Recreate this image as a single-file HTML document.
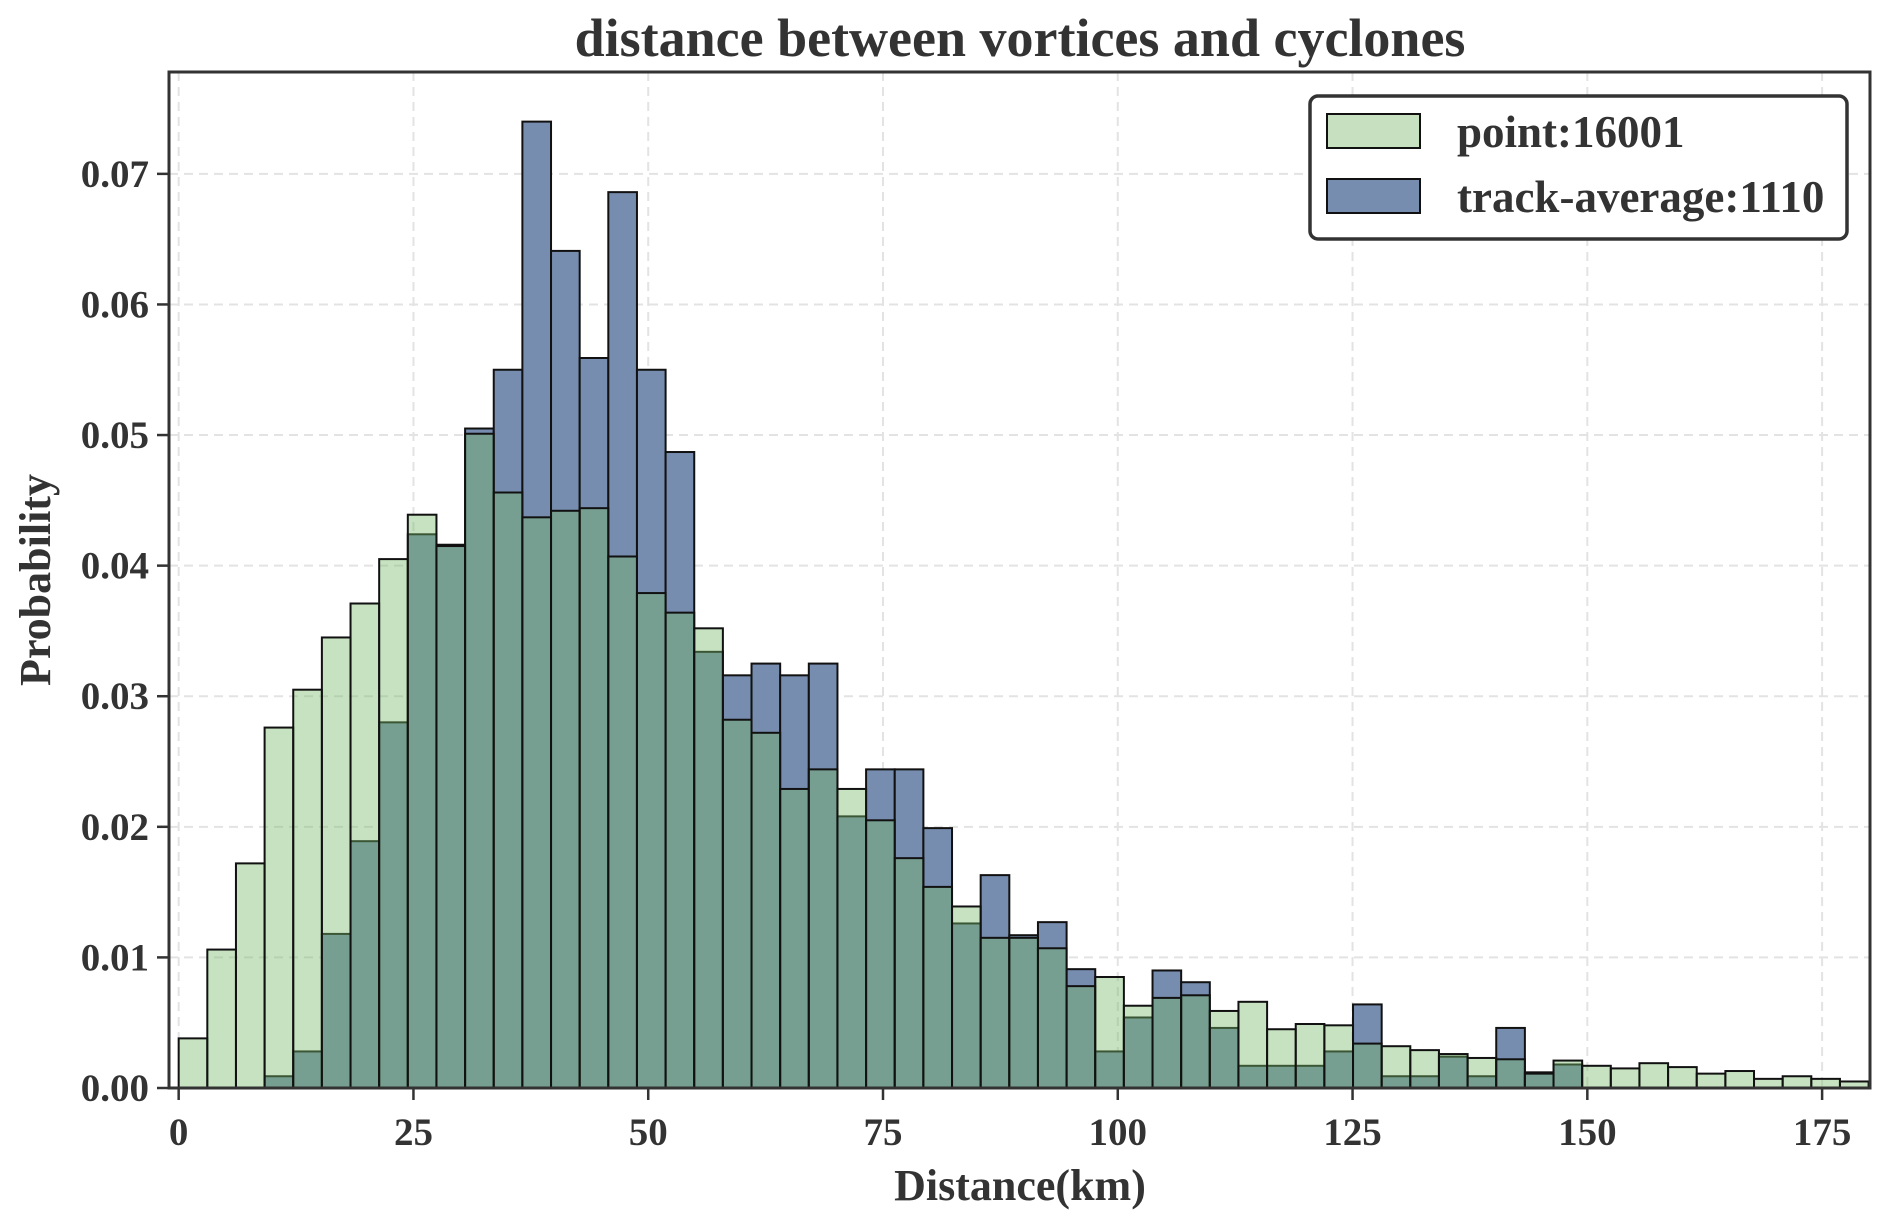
<!DOCTYPE html>
<html><head><meta charset="utf-8"><style>
html,body{margin:0;padding:0;background:#fff}
svg{display:block}
text{font-family:"Liberation Serif",serif;font-weight:bold;fill:#333}
</style></head><body>
<svg id="chart" width="1892" height="1221" viewBox="0 0 1892 1221">
<text x="1020" y="56" font-size="54" text-anchor="middle">distance between vortices and cyclones</text>
<g id="grid"></g><g id="bars"></g><g id="axes"></g>
<text x="1020" y="1200" font-size="44" text-anchor="middle">Distance(km)</text>
<text transform="translate(50,580) rotate(-90)" font-size="44" text-anchor="middle">Probability</text>
<g>
<rect x="1310" y="96" width="537" height="143" rx="8" fill="#fff" stroke="#333" stroke-width="3.5"/>
<rect x="1327" y="114" width="93" height="34" fill="#c6e0c0" stroke="#111" stroke-width="2"/>
<text x="1457" y="147" font-size="45">point:16001</text>
<rect x="1327" y="179" width="93" height="34" fill="#778daf" stroke="#111" stroke-width="2"/>
<text x="1457" y="212" font-size="45">track-average:1110</text>
</g>
</svg>
<script>
const binWidth = 3.05;
const pointVals = [0.0038,0.0106,0.0172,0.0276,0.0305,0.0345,0.0371,0.0405,0.0439,0.0415,0.0501,0.0456,0.0437,0.0442,0.0444,0.0407,0.0379,0.0364,0.0352,0.0282,0.0272,0.0229,0.0244,0.0229,0.0205,0.0176,0.0154,0.0139,0.0115,0.0115,0.0107,0.0078,0.0085,0.0063,0.0069,0.0071,0.0059,0.0066,0.0045,0.0049,0.0048,0.0034,0.0032,0.0029,0.0026,0.0023,0.0022,0.0011,0.0021,0.0017,0.0015,0.0019,0.0016,0.0011,0.0013,0.0007,0.0009,0.0007,0.0005];
const trackVals = [0,0,0,0.0009,0.0028,0.0118,0.0189,0.0280,0.0424,0.0416,0.0505,0.0550,0.0740,0.0641,0.0559,0.0686,0.0550,0.0487,0.0334,0.0316,0.0325,0.0316,0.0325,0.0208,0.0244,0.0244,0.0199,0.0126,0.0163,0.0117,0.0127,0.0091,0.0028,0.0054,0.0090,0.0081,0.0046,0.0017,0.0017,0.0017,0.0028,0.0064,0.0009,0.0009,0.0024,0.0009,0.0046,0.0012,0.0018,0,0,0,0,0,0,0,0,0,0];
const xTicks = [0,25,50,75,100,125,150,175];
const yTicks = [0,0.01,0.02,0.03,0.04,0.05,0.06,0.07];
const yTickLabels = ["0.00","0.01","0.02","0.03","0.04","0.05","0.06","0.07"];

const L=169,R=1870,T=72,B=1088, xmin=-1.03, xmax=180.1, ymax=0.0778;
const xs=v=>L+(v-xmin)/(xmax-xmin)*(R-L);
const ys=v=>B-v/ymax*(B-T);
const NS="http://www.w3.org/2000/svg";
function mk(tag,attrs,parent){const e=document.createElementNS(NS,tag);for(const k in attrs)e.setAttribute(k,attrs[k]);parent.appendChild(e);return e;}
const grid=document.getElementById('grid'),bars=document.getElementById('bars'),axes=document.getElementById('axes');
xTicks.forEach((t,i)=>{
  const g=mk('line',{x1:xs(t),x2:xs(t),y1:T,y2:B,stroke:'#e3e3e3','stroke-width':2,'stroke-dasharray':'9,6'},grid);
  
  
  const tk=mk('line',{x1:xs(t),x2:xs(t),y1:B,y2:B+12,stroke:'#333','stroke-width':2.5},axes);
  
  
  const tx=mk('text',{x:xs(t),y:B+57,'font-size':39,'text-anchor':'middle'},axes);
  tx.textContent=t;
  
  
});
yTicks.forEach((t,i)=>{
  const g=mk('line',{x1:L,x2:R,y1:ys(t),y2:ys(t),stroke:'#e3e3e3','stroke-width':2,'stroke-dasharray':'9,6'},grid);
  
  
  const tk=mk('line',{x1:L-12,x2:L,y1:ys(t),y2:ys(t),stroke:'#333','stroke-width':2.5},axes);
  
  
  const tx=mk('text',{x:L-20,y:ys(t)+13,'font-size':39,'text-anchor':'end'},axes);
  tx.textContent=yTickLabels[i];
  
  
});
trackVals.forEach((v,i)=>{
  if(v<=0)return;
  const x0=xs(i*binWidth),x1=xs((i+1)*binWidth);
  const r=mk('rect',{x:x0,y:ys(v),width:x1-x0,height:B-ys(v),fill:'#778daf',stroke:'#111','stroke-width':2},bars);
  
  
});
pointVals.forEach((v,i)=>{
  if(v<=0)return;
  const x0=xs(i*binWidth),x1=xs((i+1)*binWidth);
  const r=mk('rect',{x:x0,y:ys(v),width:x1-x0,height:B-ys(v),fill:'rgba(117,185,102,0.41)',stroke:'#111','stroke-width':2},bars);
  
  
});
const fr=mk('rect',{x:L,y:T,width:R-L,height:B-T,fill:'none',stroke:'#333','stroke-width':3},axes);


</script>
</body></html>
